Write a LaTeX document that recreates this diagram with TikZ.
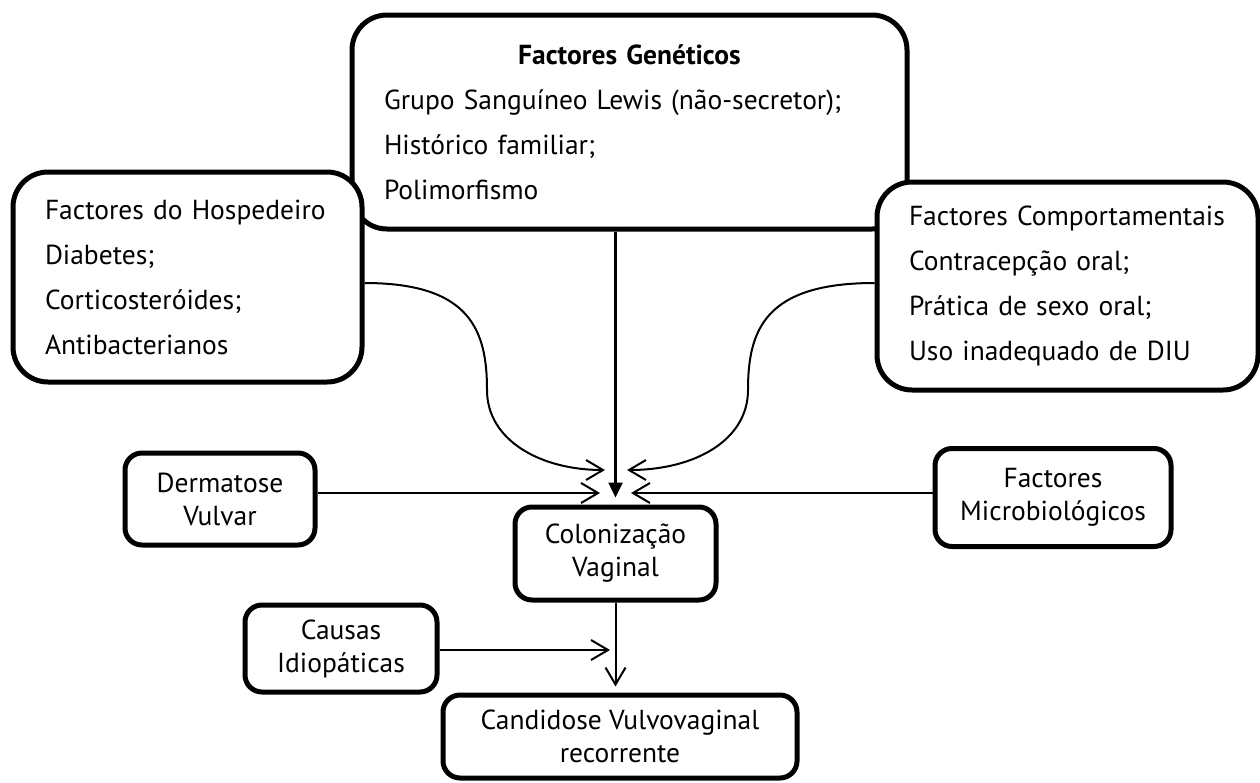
\documentclass[tikz,border=0pt]{standalone}
\usepackage{fontspec}
\setmainfont{PT Sans}
\usetikzlibrary{arrows.meta}
\begin{document}
\begin{tikzpicture}
[x=1pt,y=-1pt,%
  box/.style={draw,fill=white,line width=5pt},%
  bigbox/.style={box,rounded corners=35pt,align=left,inner xsep=32pt,inner ysep=0pt,font=\fontsize{27.5}{45}\selectfont},%
  smallbox/.style={box,rounded corners=17pt,align=center,inner sep=0pt,font=\fontsize{27.5}{33}\selectfont},%
  barb/.style={line width=2pt,-{Straight Barb[length=17pt,width=20pt]}}]
\useasboundingbox (0,0) rectangle (1260,782);
% the three groups of factors
\node[bigbox,text width=491pt,minimum height=214pt] (gen) at (629.5,122)
  {\hfill\textbf{Factores Genéticos}\hfill\null\\
   \mbox{Grupo Sanguíneo Lewis (não-secretor);}\\
   Histórico familiar;\\
   Polimorfismo};
\node[bigbox,text width=285pt,minimum height=210pt] (hosp) at (187.5,277)
  {\mbox{Factores do Hospedeiro}\\ Diabetes;\\ Corticosteróides;\\ Antibacterianos};
\node[bigbox,text width=317pt,minimum height=208pt] (comp) at (1067.5,286)
  {\mbox{Factores Comportamentais}\\ Contracepção oral;\\ Prática de sexo oral;\\ \mbox{Uso inadequado de DIU}};
% the small boxes
\node[smallbox,minimum width=190pt,minimum height=92pt] (derm) at (220,499) {Dermatose\\Vulvar};
\node[smallbox,minimum width=236pt,minimum height=98pt] (micro) at (1053,497.5) {Factores\\Microbiológicos};
\node[smallbox,minimum width=201pt,minimum height=93pt] (col) at (615.5,553.5) {Colonização\\Vaginal};
\node[smallbox,minimum width=192pt,minimum height=87pt] (caus) at (341,648.5) {Causas\\Idiopáticas};
\node[smallbox,minimum width=354pt,minimum height=83pt] (cand) at (620,736.5) {Candidose Vulvovaginal\\recorrente};
% arrow ends
\coordinate (tipL) at (605,470);
\coordinate (tipR) at (627,470);
\coordinate (tipD) at (600,493);
\coordinate (tipM) at (631,493);
\coordinate (tipC) at (610,650);
% connectors
\draw[line width=2.5pt,-{Triangle[length=15pt,width=14pt]}] (gen.south -| col.north) -- ([yshift=7pt]col.north);
\draw[barb] ([yshift=-6pt]hosp.east) .. controls (470,283) and (487,330) .. (487,390)
  .. controls (487,440) and (540,470) .. (tipL);
\draw[barb] ([yshift=3pt]comp.west) .. controls (765,283) and (748,330) .. (748,390)
  .. controls (748,440) and (695,470) .. (tipR);
\draw[barb] (derm.east |- tipD) -- (tipD);
\draw[barb] (micro.west |- tipM) -- (tipM);
\draw[barb] (caus.east |- tipC) -- (tipC);
\draw[barb] (col.south) -- ([yshift=6pt]cand.north -| col.south);
\end{tikzpicture}
\end{document}
